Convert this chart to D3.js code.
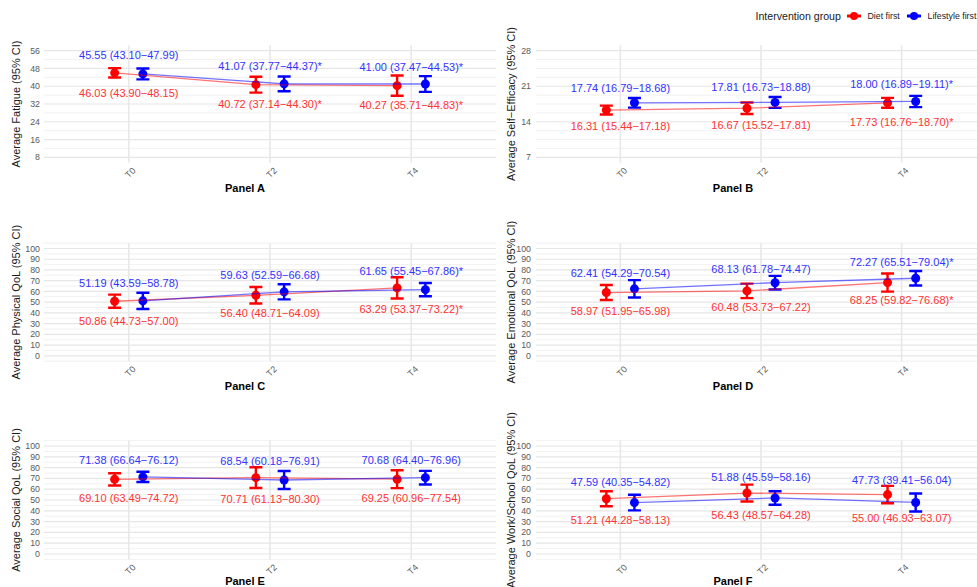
<!DOCTYPE html>
<html>
<head>
<meta charset="utf-8">
<script src="https://cdn.jsdelivr.net/npm/d3@7"></script>
<style>
  body { margin: 0; background: #fff; }
  svg { font-family: "Liberation Sans", Arial, sans-serif; }
</style>
</head>
<body>
<div id="chart"></div>
<script>
// Time points and groups
let timepoints = ["T0", "T2", "T4"];
let groups = ["Diet first", "Lifestyle first"];
let groupColors = ["#ff0000", "#0000ff"];
let labelColors = ["#ff3333", "#3333ff"];

// One entry per panel (A to F)
let panelNames = ["Panel A", "Panel B", "Panel C", "Panel D", "Panel E", "Panel F"];
let yTitles = [
  "Average Fatigue (95% CI)",
  "Average Self\u2212Efficacy (95% CI)",
  "Average Physical QoL (95% CI)",
  "Average Emotional QoL (95% CI)",
  "Average Social QoL (95% CI)",
  "Average Work/School QoL (95% CI)"
];
let yTicks = [
  [8, 16, 24, 32, 40, 48, 56],
  [7, 14, 21, 28],
  [0, 10, 20, 30, 40, 50, 60, 70, 80, 90, 100],
  [0, 10, 20, 30, 40, 50, 60, 70, 80, 90, 100],
  [0, 10, 20, 30, 40, 50, 60, 70, 80, 90, 100],
  [0, 10, 20, 30, 40, 50, 60, 70, 80, 90, 100]
];
let gridSteps = [4, 1.75, 5, 5, 5, 5];

// Diet first means and 95% CI
let dietMean = [[46.03, 40.72, 40.27], [16.31, 16.67, 17.73], [50.86, 56.40, 63.29],
                [58.97, 60.48, 68.25], [69.10, 70.71, 69.25], [51.21, 56.43, 55.00]];
let dietLow  = [[43.90, 37.14, 35.71], [15.44, 15.52, 16.76], [44.73, 48.71, 53.37],
                [51.95, 53.73, 59.82], [63.49, 61.13, 60.96], [44.28, 48.57, 46.93]];
let dietHigh = [[48.15, 44.30, 44.83], [17.18, 17.81, 18.70], [57.00, 64.09, 73.22],
                [65.98, 67.22, 76.68], [74.72, 80.30, 77.54], [58.13, 64.28, 63.07]];
// Lifestyle first means and 95% CI
let lifeMean = [[45.55, 41.07, 41.00], [17.74, 17.81, 18.00], [51.19, 59.63, 61.65],
                [62.41, 68.13, 72.27], [71.38, 68.54, 70.68], [47.59, 51.88, 47.73]];
let lifeLow  = [[43.10, 37.77, 37.47], [16.79, 16.73, 16.89], [43.59, 52.59, 55.45],
                [54.29, 61.78, 65.51], [66.64, 60.18, 64.40], [40.35, 45.59, 39.41]];
let lifeHigh = [[47.99, 44.37, 44.53], [18.68, 18.88, 19.11], [58.78, 66.68, 67.86],
                [70.54, 74.47, 79.04], [76.12, 76.91, 76.96], [54.82, 58.16, 56.04]];
// significance marks
let starred = [[false, true, true], [false, false, true], [false, false, true],
               [false, false, true], [false, false, false], [false, false, false]];

let w = 977, h = 587;
// layout: columns and rows
let cols = [
  {left: 44, right: 496, tickX: 40, titleX: 20, center: 245},
  {left: 536, right: 986, tickX: 531, titleX: 514.5, center: 733}
];
let rows = [
  {top: 50.7, bottom: 157.3},
  {top: 248.5, bottom: 355.8},
  {top: 446, bottom: 554}
];

let svg = d3.select("#chart").append("svg")
  .attr("width", w)
  .attr("height", h);

let fmt = d3.format(".2f");
let ciText = (m, lo, hi, star) =>
  fmt(m) + " (" + fmt(lo) + "\u2212" + fmt(hi) + ")" + (star ? "*" : "");

panelNames.forEach((name, p) => {
  let col = cols[p % 2];
  let row = rows[Math.floor(p / 2)];
  let ext = d3.extent(yTicks[p]);
  let yScale = d3.scaleLinear().domain(ext).range([row.bottom, row.top]);
  let pad = (ext[1] - ext[0]) * 0.05;
  let lo = ext[0] - pad, hi = ext[1] + pad;
  let plotTop = yScale(hi), plotBottom = yScale(lo);
  let xScale = d3.scalePoint().domain(timepoints).range([col.left, col.right]).padding(0.6);
  let dodge = xScale.step() * 0.1;

  let g = svg.append("g");
  let clipId = "clip" + p;
  svg.append("clipPath").attr("id", clipId).append("rect")
    .attr("x", col.left).attr("y", plotTop - 2)
    .attr("width", Math.min(col.right, w) - col.left).attr("height", plotBottom - plotTop + 4);

  // horizontal grid
  let step = gridSteps[p];
  let gridVals = d3.range(Math.ceil(lo / step - 1e-6), Math.floor(hi / step + 1e-6) + 1).map(k => k * step);
  g.selectAll(".grid")
    .data(gridVals)
    .enter().append("line")
    .attr("x1", col.left).attr("x2", Math.min(col.right, w))
    .attr("y1", d => yScale(d)).attr("y2", d => yScale(d))
    .attr("stroke", d => yTicks[p].some(t => Math.abs(t - d) < 1e-6) ? "#e6e6e6" : "#ededed")
    .attr("stroke-width", d => yTicks[p].some(t => Math.abs(t - d) < 1e-6) ? 1.2 : 0.8);

  // vertical grid
  g.selectAll(".vgrid")
    .data(timepoints)
    .enter().append("line")
    .attr("x1", d => xScale(d)).attr("x2", d => xScale(d))
    .attr("y1", plotTop).attr("y2", plotBottom)
    .attr("stroke", "#e8e8e8")
    .attr("stroke-width", 1.6);

  // y tick labels
  g.selectAll(".ytick")
    .data(yTicks[p])
    .enter().append("text")
    .attr("x", col.tickX)
    .attr("y", d => yScale(d))
    .attr("dy", "0.35em")
    .attr("text-anchor", "end")
    .attr("font-size", "8.8px")
    .attr("fill", "#5a5a5a")
    .text(d => d);

  // x tick labels, rotated
  g.selectAll(".xtick")
    .data(timepoints)
    .enter().append("text")
    .attr("transform", d => "translate(" + (xScale(d) + 3) + "," + (plotBottom + 4) + ") rotate(-45)")
    .attr("text-anchor", "end")
    .attr("dominant-baseline", "hanging")
    .attr("font-size", "9px")
    .attr("fill", "#5a5a5a")
    .text(d => d);

  // axis titles
  g.append("text")
    .attr("transform", "translate(" + col.titleX + "," + ((plotTop + plotBottom) / 2) + ") rotate(-90)")
    .attr("text-anchor", "middle")
    .attr("font-size", "11px")
    .attr("fill", "#1a1a1a")
    .text(yTitles[p]);
  g.append("text")
    .attr("x", col.center)
    .attr("y", Math.min(plotBottom + 29, h - 2.5))
    .attr("text-anchor", "middle")
    .attr("font-size", "11px")
    .attr("font-weight", "bold")
    .attr("fill", "#000")
    .text(name);

  // series
  let series = [
    {mean: dietMean[p], low: dietLow[p], high: dietHigh[p], off: -dodge},
    {mean: lifeMean[p], low: lifeLow[p], high: lifeHigh[p], off: dodge}
  ];
  let marks = g.append("g").attr("clip-path", "url(#" + clipId + ")");
  series.forEach((s, si) => {
    let pts = timepoints.map((t, i) => ({x: xScale(t) + s.off, m: s.mean[i], lo: s.low[i], hi: s.high[i]}));
    let eb = marks.selectAll(".eb" + si).data(pts).enter().append("g");
    eb.append("line")
      .attr("x1", d => d.x).attr("x2", d => d.x)
      .attr("y1", d => yScale(d.lo)).attr("y2", d => yScale(d.hi))
      .attr("stroke", groupColors[si]).attr("stroke-width", 2.4);
    ["lo", "hi"].forEach(k => {
      eb.append("line")
        .attr("x1", d => d.x - 6.5).attr("x2", d => d.x + 6.5)
        .attr("y1", d => yScale(d[k])).attr("y2", d => yScale(d[k]))
        .attr("stroke", groupColors[si]).attr("stroke-width", 2.4);
    });
    eb.append("circle")
      .attr("cx", d => d.x).attr("cy", d => yScale(d.m))
      .attr("r", 4.5)
      .attr("fill", groupColors[si]);
  });
  series.forEach((s, si) => {
    let line = d3.line()
      .x((d, i) => xScale(timepoints[i]) + s.off)
      .y(d => yScale(d));
    marks.append("path")
      .datum(s.mean)
      .attr("d", line)
      .attr("fill", "none")
      .attr("stroke", groupColors[si])
      .attr("stroke-opacity", 0.55)
      .attr("stroke-width", 1.3);
  });

  // value labels: lifestyle above, diet below
  timepoints.forEach((t, i) => {
    let mid = (yScale(dietMean[p][i]) + yScale(lifeMean[p][i])) / 2;
    g.append("text")
      .attr("x", xScale(t))
      .attr("y", mid - 18)
      .attr("dy", "0.35em")
      .attr("text-anchor", "middle")
      .attr("font-size", "11px")
      .attr("fill", labelColors[1])
      .text(ciText(lifeMean[p][i], lifeLow[p][i], lifeHigh[p][i], starred[p][i]));
    g.append("text")
      .attr("x", xScale(t))
      .attr("y", mid + 20)
      .attr("dy", "0.35em")
      .attr("text-anchor", "middle")
      .attr("font-size", "11px")
      .attr("fill", labelColors[0])
      .text(ciText(dietMean[p][i], dietLow[p][i], dietHigh[p][i], starred[p][i]));
  });
});

// legend
let legend = svg.append("g");
legend.append("text")
  .attr("x", 755.5).attr("y", 16).attr("dy", "0.35em")
  .attr("font-size", "10.6px").attr("fill", "#1a1a1a")
  .text("Intervention group");
let keyX = [847, 907];
groups.forEach((gname, i) => {
  legend.append("line")
    .attr("x1", keyX[i]).attr("x2", keyX[i] + 14)
    .attr("y1", 16).attr("y2", 16)
    .attr("stroke", groupColors[i]).attr("stroke-width", 3);
  legend.append("circle")
    .attr("cx", keyX[i] + 7).attr("cy", 16).attr("r", 4)
    .attr("fill", groupColors[i]);
  legend.append("text")
    .attr("x", keyX[i] + 20.5).attr("y", 16).attr("dy", "0.35em")
    .attr("font-size", "8.8px").attr("fill", "#1a1a1a")
    .text(gname);
});
</script>
</body>
</html>
